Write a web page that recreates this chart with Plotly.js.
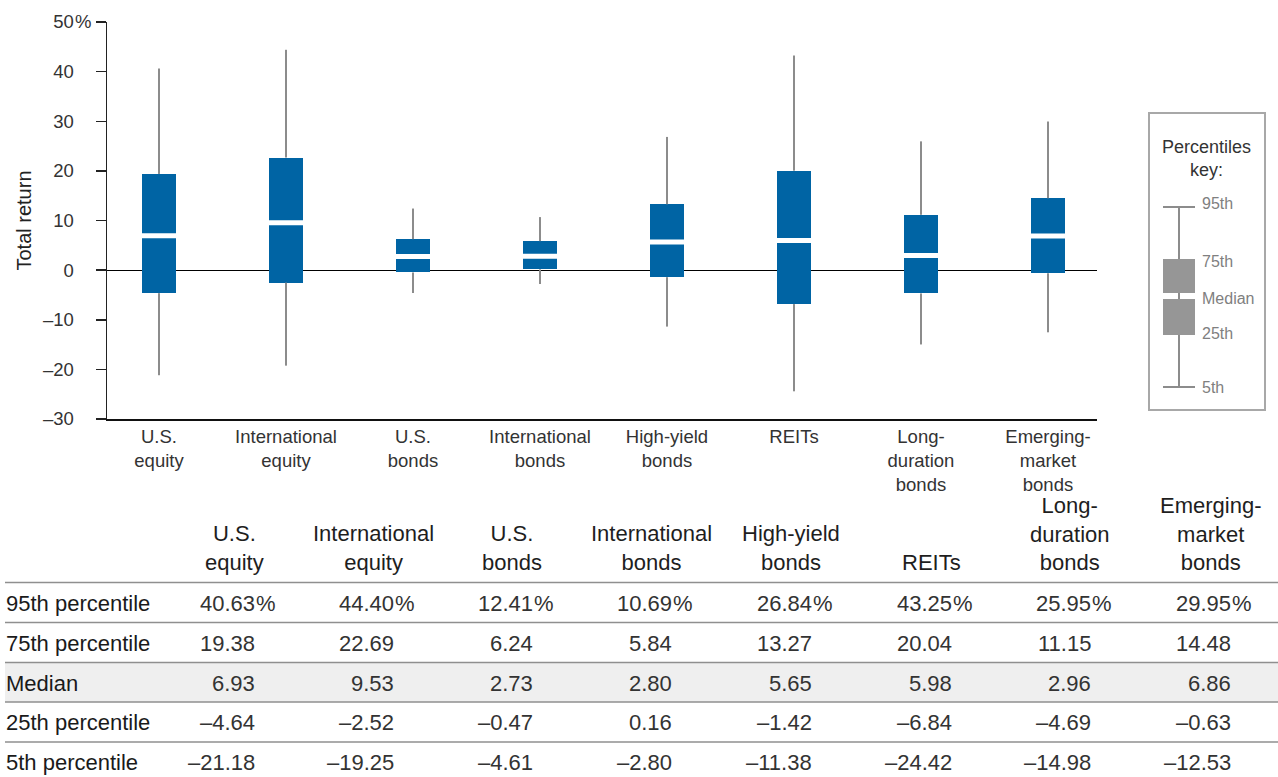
<!DOCTYPE html>
<html>
<head>
<meta charset="utf-8">
<script src="https://cdn.plot.ly/plotly-3.0.1.min.js"></script>
<style>html,body{margin:0;padding:0;background:#fff;}#chart{width:1278px;height:777px;}</style>
</head>
<body>
<div id="chart"></div>
<script>
// ---- data ----
const axisLabels = ["U.S.<br>equity","International<br>equity","U.S.<br>bonds","International<br>bonds","High-yield<br>bonds","REITs","Long-<br>duration<br>bonds","Emerging-<br>market<br>bonds"];
const headerLabels = ["U.S.<br>equity","International<br>equity","U.S.<br>bonds","International<br>bonds","High-yield<br>bonds","REITs","Long-<br>duration<br>bonds","Emerging-<br>market<br>bonds"];
const p95 = [40.63, 44.40, 12.41, 10.69, 26.84, 43.25, 25.95, 29.95];
const p75 = [19.38, 22.69, 6.24, 5.84, 13.27, 20.04, 11.15, 14.48];
const median = [6.93, 9.53, 2.73, 2.80, 5.65, 5.98, 2.96, 6.86];
const p25 = [-4.64, -2.52, -0.47, 0.16, -1.42, -6.84, -4.69, -0.63];
const p5 = [-21.18, -19.25, -4.61, -2.80, -11.38, -24.42, -14.98, -12.53];
const rowLabels = ["95th percentile","75th percentile","Median","25th percentile","5th percentile"];
const tickVals = [-30,-20,-10,0,10,20,30,40,50];
const tickText = ["\u201330","\u201320","\u201310","0","10","20","30","40","50"];
const keyLabels = ["95th","75th","Median","25th","5th"];

// ---- helpers (pixel -> paper) ----
const W = 1278, H = 777;
const px = x => x / W;
const py = y => 1 - y / H;
const fmt = v => v.toFixed(2).replace('-', '\u2013');

const BLUE = '#0064a4';
const WHISK = '#8c8c8c';
const FONT = 'Liberation Sans, Arial, sans-serif';

// whiskers (two segments per category so the box covers the middle)
const wx = [], wy = [];
axisLabels.forEach((c, i) => {
  wx.push(c, c, null, c, c, null);
  wy.push(p5[i], p25[i], null, p75[i], p95[i], null);
});

const traces = [
  {type:'bar', x: axisLabels, base: p25, y: p75.map((v,i)=>v - p25[i]),
   width: 0.268, marker:{color: BLUE, line:{width:0}}, hoverinfo:'skip'},
  {type:'scatter', mode:'lines', x: wx, y: wy, connectgaps:false,
   line:{color: WHISK, width: 2}, hoverinfo:'skip'},
  {type:'scatter', mode:'markers', x: axisLabels, y: median,
   marker:{symbol:'line-ew', size: 24.3, line:{color:'#ffffff', width:5}}, hoverinfo:'skip'}
];

const shapes = [];
const annotations = [];

// "%" after the top tick label
annotations.push({xref:'paper', yref:'y', x: px(73), y: 50, xanchor:'left', yanchor:'middle',
  text:'%', showarrow:false, font:{family:FONT, size:18.5, color:'#333'}});

// ---- percentiles key ----
shapes.push({type:'rect', xref:'paper', yref:'paper', x0:px(1149), x1:px(1265), y0:py(113), y1:py(410),
  line:{color:'#a8a8a8', width:2}, fillcolor:'rgba(0,0,0,0)'});
shapes.push({type:'line', xref:'paper', yref:'paper', x0:px(1179), x1:px(1179), y0:py(207), y1:py(387), line:{color:WHISK, width:2}});
shapes.push({type:'line', xref:'paper', yref:'paper', x0:px(1163), x1:px(1195), y0:py(207), y1:py(207), line:{color:WHISK, width:2}});
shapes.push({type:'line', xref:'paper', yref:'paper', x0:px(1163), x1:px(1195), y0:py(387), y1:py(387), line:{color:WHISK, width:2}});
shapes.push({type:'rect', xref:'paper', yref:'paper', x0:px(1163), x1:px(1195), y0:py(259), y1:py(293), line:{width:0}, fillcolor:'#969696'});
shapes.push({type:'rect', xref:'paper', yref:'paper', x0:px(1163), x1:px(1195), y0:py(299), y1:py(335), line:{width:0}, fillcolor:'#969696'});
annotations.push({xref:'paper', yref:'paper', x:px(1206), y:py(158), text:'Percentiles<br>key:', showarrow:false, xanchor:'center', yanchor:'middle', font:{family:FONT, size:18, color:'#333'}});
const keyY = [203, 261, 298, 333, 387];
keyLabels.forEach((t,i) => {
  annotations.push({xref:'paper', yref:'paper', x:px(1200), y:py(keyY[i]), text:t, showarrow:false, xanchor:'left', yanchor:'middle', font:{family:FONT, size:16, color:'#808080'}});
});

// ---- table ----
const colRight = [256, 395, 534, 673, 813, 953, 1092, 1232];
const colCenter = colRight.map(r => r - 22);
const rowCenter = [603, 643, 683, 722, 762];
const ruleY = [582.5, 622.5, 662.5, 702, 742];

shapes.push({type:'rect', xref:'paper', yref:'paper', layer:'below', x0:px(5), x1:px(1278), y0:py(ruleY[2]), y1:py(ruleY[3]), line:{width:0}, fillcolor:'#efefef'});
ruleY.forEach(y => {
  shapes.push({type:'line', xref:'paper', yref:'paper', x0:px(5), x1:px(1278), y0:py(y), y1:py(y), line:{color:'#8f8f8f', width:1.5}});
});

headerLabels.forEach((t, j) => {
  annotations.push({xref:'paper', yref:'paper', x:px(colCenter[j]), y:py(577), text:t, showarrow:false,
    xanchor:'center', yanchor:'bottom', align:'center', font:{family:FONT, size:22, color:'#1e1e1e'}});
});

const rows = [p95, p75, median, p25, p5];
rows.forEach((vals, r) => {
  annotations.push({xref:'paper', yref:'paper', x:px(4), y:py(rowCenter[r]), text:rowLabels[r], showarrow:false,
    xanchor:'left', yanchor:'middle', font:{family:FONT, size:22, color:'#1a1a1a'}});
  vals.forEach((v, j) => {
    annotations.push({xref:'paper', yref:'paper', x:px(colRight[j] + 1), y:py(rowCenter[r]), text:fmt(v), showarrow:false,
      xanchor:'right', yanchor:'middle', font:{family:FONT, size:22, color:'#333'}});
    if (r === 0) {
      annotations.push({xref:'paper', yref:'paper', x:px(colRight[j] - 2), y:py(rowCenter[r]), text:'%', showarrow:false,
        xanchor:'left', yanchor:'middle', font:{family:FONT, size:22, color:'#333'}});
    }
  });
});

const layout = {
  width: W, height: H,
  margin: {l:0, r:0, t:0, b:0, pad:0},
  paper_bgcolor: '#ffffff', plot_bgcolor: 'rgba(0,0,0,0)',
  showlegend: false,
  font: {family: FONT, color: '#333'},
  bargap: 0,
  xaxis: {
    type: 'category', domain: [px(107), px(1097)], range: [-0.4094, 7.386],
    showline: true, linecolor: '#111', linewidth: 1.5, mirror: false,
    ticks: '', showgrid: false, zeroline: false, fixedrange: true,
    tickfont: {family: FONT, size: 18.5, color: '#333'}
  },
  yaxis: {
    domain: [py(419), py(22)], range: [-30, 50],
    tickvals: tickVals, ticktext: tickText,
    ticks: 'outside', ticklen: 10, tickwidth: 1.5, tickcolor: '#222',
    ticklabelstandoff: 18,
    showline: true, linecolor: '#222', linewidth: 1.5,
    showgrid: false, zeroline: true, zerolinecolor: '#000', zerolinewidth: 1.2,
    fixedrange: true,
    tickfont: {family: FONT, size: 18.5, color: '#333'},
    title: {text: 'Total return', font: {family: FONT, size: 20, color: '#222'}, standoff: 6}
  },
  shapes: shapes,
  annotations: annotations
};

Plotly.newPlot('chart', traces, layout, {displayModeBar: false, staticPlot: true});
</script>
</body>
</html>
